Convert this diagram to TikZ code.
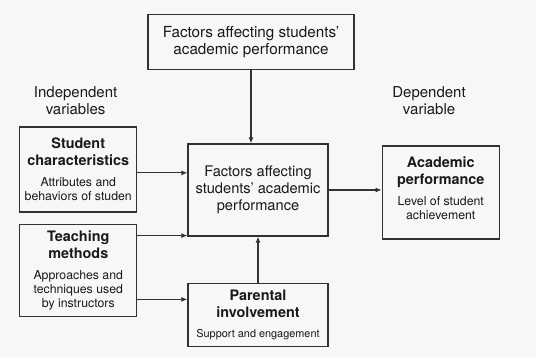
\documentclass[tikz,border=0pt]{standalone}
\usepackage{fontspec}
\setmainfont{TeX Gyre Heros}
\usetikzlibrary{arrows.meta, positioning, calc}
\definecolor{bgGray}{RGB}{247,247,247}
\definecolor{edgeGray}{RGB}{50,50,50}
\definecolor{darkText}{RGB}{25,25,25}
\newcommand{\headfont}{\fontsize{12.3}{14.5}\selectfont\bfseries}
\newcommand{\subfont}{\fontsize{10.5}{12}\selectfont}
\tikzset{
    varbox/.style={rectangle, draw=edgeGray, line width=1.05pt, align=center, text=darkText,
                   inner sep=2pt, minimum width=#1, font=\subfont},
    varbox/.default=3.51cm,
    hdr/.style={align=center, text=darkText, inner sep=0pt, font=\fontsize{12.8}{14.8}\selectfont},
    flow/.style={-{Latex[length=1.8mm, width=1.5mm]}, line width=0.95pt, edgeGray}
}

\begin{document}
\begin{tikzpicture}[node distance=1.5cm]
    \path[fill=bgGray, use as bounding box] (-7.74,-5.01) rectangle (8.34,5.7);

    \node[varbox=4.2cm, minimum height=2.76cm, font=\fontsize{12.5}{14.5}\selectfont] (core) {Factors affecting\\students' academic\\performance};
    \node[varbox=6.18cm, minimum height=1.65cm, font=\fontsize{13}{14.5}\selectfont, above=2.19cm of core, xshift=-0.21cm] (topic) {Factors affecting students'\\academic performance};

    \node[varbox, minimum height=2.55cm, left=1.5cm of core, yshift=0.615cm] (student) {{\headfont Student}\\[2.5pt]{\headfont characteristics}\\[6pt]Attributes and\\behaviors of studen};
    \node[varbox, minimum height=2.76cm, below=0.33cm of student] (teaching) {{\headfont Teaching}\\[2.5pt]{\headfont methods}\\[6pt]Approaches and\\techniques used\\by instructors};
    \node[varbox=4.2cm, minimum height=1.89cm, below=1.38cm of core] (parents) {{\headfont Parental}\\[2.5pt]{\headfont involvement}\\[5pt]{\fontsize{9.3}{12}\selectfont Support and engagement}};
    \node[varbox, minimum height=2.79cm, right=1.59cm of core, yshift=-0.075cm] (result) {{\headfont Academic}\\[2.5pt]{\headfont performance}\\[6pt]Level of student\\achievement\\[-5pt]};

    \node[hdr, above=0.33cm of student, xshift=-0.08cm] (indep) {Independent\\variables};
    \node[hdr, above=0.9cm of result, xshift=-0.35cm] (dep) {Dependent\\variable};

    \draw[flow] (topic) -- (topic.south |- core.north);
    \draw[flow] ([yshift=-0.1cm]student.east) -- ([yshift=-0.1cm]student.east -| core.west);
    \draw[flow] ([yshift=0.03cm]teaching.east |- core.south west) -- ([yshift=0.03cm]core.south west);
    \draw[flow] ([yshift=0.46cm]teaching.east |- parents.west) -- ([yshift=0.46cm]parents.west);
    \draw[flow] (parents) -- (core);
    \draw[flow] (core.east) -- (core.east -| result.west);
\end{tikzpicture}
\end{document}
